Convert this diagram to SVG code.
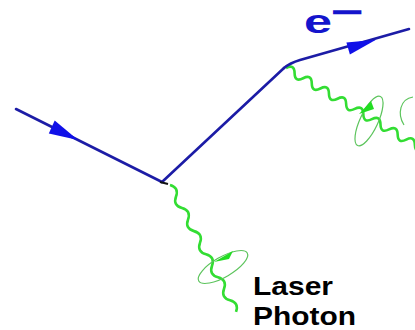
<svg xmlns="http://www.w3.org/2000/svg" width="415" height="330" viewBox="0 0 415 330">
<style>
.e{stroke:#1c1ca6;stroke-width:2.6;fill:none;stroke-linecap:round}
.ah{fill:#1010e8;stroke:none}
.ph{stroke:#33dd33;stroke-width:2.6;fill:none;stroke-linejoin:round}
.pol{stroke:#5cc45c;stroke-width:1.2;fill:none}
.pa{fill:#22dd22;stroke:none}
.lbl{font-family:"Liberation Sans",Arial,sans-serif;font-weight:bold}
</style>
<rect width="415" height="330" fill="#ffffff"/>
<g id="connectors">
  <g id="photon-in" transform="translate(170,185) rotate(62.5)">
    <path class="ph" d="M0 0 q6.5 -7 13 0 t13 0 t13 0 t13 0 t13 0 t13 0 t13 0 t13 0 t13 0 t13 0 t13 0"/>
  </g>
  <g id="photon-out" transform="translate(286,68) rotate(30.8)">
    <path class="ph" d="M0 0 q5 -8 10 0 t10 0 t10 0 t10 0 t10 0 t10 0 t10 0 t10 0 t10 0 t10 0 t10 0 t10 0 t10 0 t10 0 t10 0 t10 0"/>
  </g>
  <line class="e" x1="16" y1="109" x2="162" y2="182"/>
  <line class="e" x1="162" y1="182" x2="284" y2="68" stroke-width="3"/>
  <path class="e" d="M284 68 Q290 63 300 60 L409 29"/>
  <polygon class="ah" points="78,140 48.8,133.4 54.7,120.6"/>
  <polygon class="ah" points="376,39.7 349.9,54.5 346.4,42.4"/>
  <line x1="160" y1="182" x2="168" y2="184" stroke="#111" stroke-width="2"/>
</g>
<g id="polarization-in">
  <ellipse class="pol" cx="223" cy="267" rx="28" ry="10" transform="rotate(-30 223 267)"/>
  <polygon class="pa" points="214,262 233,251 229,259"/>
</g>
<g id="polarization-out">
  <ellipse class="pol" cx="369" cy="121" rx="27" ry="9" transform="rotate(-65 369 121)"/>
  <polygon class="pa" points="359,114 371,101 374,109"/>
  <path class="pol" d="M404 125 C397 114 400 99 413 97"/>
</g>
<g id="electron-label">
  <text class="lbl" fill="#1414cc" x="304" y="33" font-size="34" textLength="28" lengthAdjust="spacingAndGlyphs">e</text>
  <text class="lbl" fill="#1414cc" x="333" y="19" font-size="20" stroke="#1414cc" stroke-width="1.8" textLength="28" lengthAdjust="spacingAndGlyphs">−</text>
</g>
<g id="laser-label">
  <text class="lbl" fill="#000" x="253" y="295" font-size="26" textLength="80" lengthAdjust="spacingAndGlyphs">Laser</text>
  <text class="lbl" fill="#000" x="253" y="325" font-size="26" textLength="103" lengthAdjust="spacingAndGlyphs">Photon</text>
</g>
</svg>
